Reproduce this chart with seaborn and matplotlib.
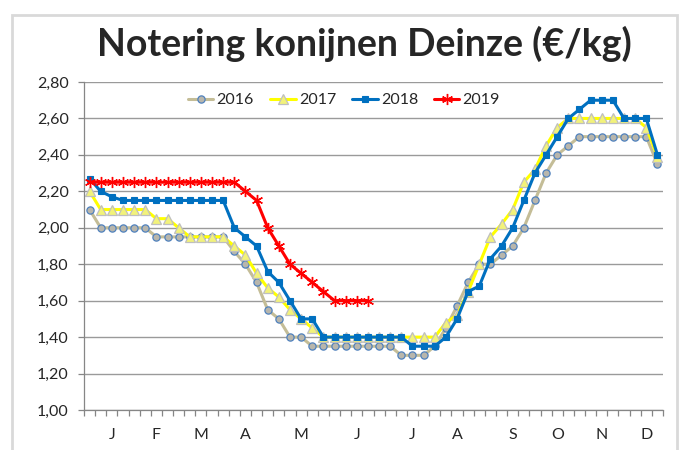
import matplotlib
matplotlib.use("Agg")
import matplotlib.pyplot as plt
import seaborn as sns
import pandas as pd
from matplotlib.patches import Rectangle
from matplotlib.ticker import FixedLocator, FuncFormatter, NullFormatter

# ---- data -------------------------------------------------------------
weeks = list(range(1, 53))

y2016 = [2.10, 2.00, 2.00, 2.00, 2.00, 2.00, 1.95, 1.95, 1.95, 1.95,
         1.95, 1.95, 1.95, 1.87, 1.80, 1.70, 1.55, 1.50, 1.40, 1.40,
         1.35, 1.35, 1.35, 1.35, 1.35, 1.35, 1.35, 1.35, 1.30, 1.30,
         1.30, 1.35, 1.45, 1.57, 1.70, 1.80, 1.80, 1.85, 1.90, 2.00,
         2.15, 2.30, 2.40, 2.45, 2.50, 2.50, 2.50, 2.50, 2.50, 2.50,
         2.50, 2.35]

y2017 = [2.20, 2.10, 2.10, 2.10, 2.10, 2.10, 2.05, 2.05, 2.00, 1.95,
         1.95, 1.95, 1.95, 1.90, 1.85, 1.75, 1.67, 1.62, 1.55, 1.50,
         1.45, 1.40, 1.40, 1.40, 1.40, 1.40, 1.40, 1.40, 1.40, 1.40,
         1.40, 1.40, 1.48, 1.52, 1.65, 1.80, 1.95, 2.02, 2.10, 2.25,
         2.32, 2.45, 2.55, 2.60, 2.60, 2.60, 2.60, 2.60, 2.60, 2.60,
         2.55, 2.39]

y2018 = [2.27, 2.20, 2.17, 2.15, 2.15, 2.15, 2.15, 2.15, 2.15, 2.15,
         2.15, 2.15, 2.15, 2.00, 1.95, 1.90, 1.76, 1.70, 1.60, 1.50,
         1.50, 1.40, 1.40, 1.40, 1.40, 1.40, 1.40, 1.40, 1.40, 1.35,
         1.35, 1.35, 1.40, 1.50, 1.65, 1.68, 1.83, 1.90, 2.00, 2.15,
         2.30, 2.40, 2.50, 2.60, 2.65, 2.70, 2.70, 2.70, 2.60, 2.60,
         2.60, 2.40]

y2019 = [2.25, 2.25, 2.25, 2.25, 2.25, 2.25, 2.25, 2.25, 2.25, 2.25,
         2.25, 2.25, 2.25, 2.25, 2.20, 2.15, 2.00, 1.90, 1.80, 1.75,
         1.70, 1.65, 1.60, 1.60, 1.60, 1.60]

month_labels = ["J", "F", "M", "A", "M", "J", "J", "A", "S", "O", "N", "D"]
month_weeks = [3, 7, 11, 15, 20, 25, 30, 34, 39, 43, 47, 51]
y_ticks = [1.00, 1.20, 1.40, 1.60, 1.80, 2.00, 2.20, 2.40, 2.60, 2.80]
title = "Notering konijnen Deinze (€/kg)"

# ---- styling ------------------------------------------------------------
sns.set_style("white")
FONT = ["Lato", "DejaVu Sans"]
plt.rcParams["font.family"] = FONT

fig = plt.figure(figsize=(6.88, 4.50), dpi=100)
ax = fig.add_axes([84 / 688, 1 - 410 / 450, (663 - 84) / 688, (410 - 82) / 450])

series = [
    ("2016", y2016, dict(color="#C4BD97", marker="o", markersize=5.2,
                         markerfacecolor="#B8B6AC", markeredgecolor="#4F81BD",
                         markeredgewidth=0.9)),
    ("2017", y2017, dict(color="#FFFF00", marker="^", markersize=6.5,
                         markerfacecolor="#F2F27A", markeredgecolor="#BFBFBF",
                         markeredgewidth=0.9)),
    ("2018", y2018, dict(color="#0070C0", marker="s", markersize=4.6,
                         markerfacecolor="#0070C0", markeredgecolor="#0070C0",
                         markeredgewidth=0.8)),
    ("2019", y2019, dict(color="#FF0000", marker=(6, 2, 0), markersize=8,
                         markerfacecolor="#FF0000", markeredgecolor="#FF0000",
                         markeredgewidth=1.0)),
]

for name, vals, kw in series:
    df = pd.DataFrame({"week": weeks[:len(vals)], "price": vals})
    sns.lineplot(data=df, x="week", y="price", ax=ax, linewidth=2.2,
                 label=name, legend=False, **kw)

# axes
ax.set_xlim(0.5, 52.5)
ax.set_ylim(1.0, 2.8)
ax.set_xlabel("")
ax.set_ylabel("")

ax.xaxis.set_major_locator(FixedLocator([w + 0.5 for w in range(0, 53)]))
ax.xaxis.set_major_formatter(NullFormatter())
ax.xaxis.set_minor_locator(FixedLocator(month_weeks))
ax.set_xticklabels(month_labels, minor=True)
ax.tick_params(axis="x", which="major", direction="out", length=4,
               width=0.9, color="#868686", bottom=True)
ax.tick_params(axis="x", which="minor", length=0, pad=13, labelsize=11.5,
               bottom=True)

ax.set_yticks(y_ticks)
ax.yaxis.set_major_formatter(FuncFormatter(lambda v, p: f"{v:.2f}".replace(".", ",")))
ax.tick_params(axis="y", direction="out", length=4, width=0.9,
               color="#868686", pad=7, labelsize=11.5, left=True)

ax.grid(axis="y", color="#9A9A9A", linewidth=1.0)
ax.grid(axis="x", visible=False)
ax.set_axisbelow(True)
for s in ["top", "right"]:
    ax.spines[s].set_visible(False)
for s in ["left", "bottom"]:
    ax.spines[s].set_color("#868686")
    ax.spines[s].set_linewidth(0.9)

handles, labels = ax.get_legend_handles_labels()
ax.legend(handles, labels, loc="center", bbox_to_anchor=(0.449, 0.945),
          ncol=4, frameon=False, fontsize=11.5, handlelength=1.6,
          handletextpad=0.2, columnspacing=1.0, numpoints=1)

fig.text(364 / 688, 1 - 44 / 450, title, ha="center", va="center",
         fontsize=27, fontweight="bold", family=FONT)

fig.add_artist(Rectangle((12 / 688, -0.05), (677 - 12) / 688, 1 - 15 / 450 + 0.05,
                         transform=fig.transFigure, fill=False,
                         edgecolor="#D9D9D9", linewidth=2))

fig.savefig("out.png", dpi=100)
